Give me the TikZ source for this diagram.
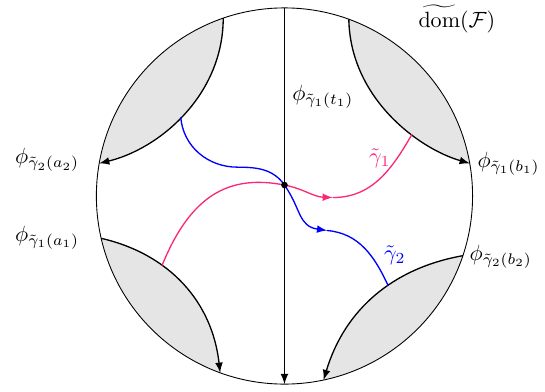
\documentclass[tikz,border=0pt]{standalone}
\usepackage{amsmath,amssymb}
\usepackage{tikz}
\usetikzlibrary{arrows,calc}
\definecolor{gpink}{RGB}{250,40,120}
\tikzset{region/.style={fill=gray!20},
  bd/.style={->,semithick},
  crv/.style={semithick}}

\begin{document}
\begin{tikzpicture}[>=latex]
\useasboundingbox (-4.537,-3.11) rectangle (4.155,3.126);
% end points on the circle
\coordinate (tl1) at (109:3); \coordinate (tl2) at (170:3);
\coordinate (tr1) at (70:3);  \coordinate (tr2) at (10:3);
\coordinate (bl1) at (193:3); \coordinate (bl2) at (250:3);
\coordinate (br1) at (341.5:3); \coordinate (br2) at (282:3);
\coordinate (top) at (90:3); \coordinate (bot) at (270:3);
\coordinate (dot) at (0,0.175);
% shaded pieces
\fill[region] (tl1) arc[start angle=109,end angle=170,radius=3] .. controls (-2.0,0.75) and (-0.98,1.6) .. (tl1);
\fill[region] (tr1) arc[start angle=70,end angle=10,radius=3] .. controls (2.15,0.75) and (1.05,1.55) .. (tr1);
\fill[region] (bl1) arc[start angle=193,end angle=250,radius=3] .. controls (-1.15,-1.7) and (-1.82,-0.93) .. (bl1);
\fill[region] (br1) arc[start angle=341.5,end angle=282,radius=3] .. controls (0.96,-1.81) and (1.73,-1.15) .. (br1);
\draw (0,0) circle (3);
% boundary curves
\draw[bd] (tl1) .. controls (-0.98,1.6) and (-2.0,0.75) .. (tl2) coordinate[pos=0.52] (bs);
\draw[bd] (tr1) .. controls (1.05,1.55) and (2.15,0.75) .. (tr2) coordinate[pos=0.64] (pe);
\draw[bd] (bl1) .. controls (-1.82,-0.93) and (-1.15,-1.7) .. (bl2) coordinate[pos=0.34] (ps);
\draw[bd] (br1) .. controls (1.73,-1.15) and (0.96,-1.81) .. (br2) coordinate[pos=0.41] (be);
\draw[bd] (top) -- (bot);
% the two lifted paths
\draw[crv,blue,->] (bs) to[out=-85,in=180] (-0.75,0.46) to[out=0,in=125] (dot) to[out=-55,in=172,looseness=1.2] (0.68,-0.55) coordinate (ba);
\draw[crv,blue] (ba) to[out=-5,in=115] (be);
\draw[crv,gpink] (ps) .. controls (-1.5,0.0) and (-0.9,0.35) .. (dot);
\draw[crv,gpink,->] (dot) to[out=-11,in=178] (0.77,-0.025) coordinate (pa);
\draw[crv,gpink] (pa) to[out=0,in=240] (pe);
\fill (dot) circle (1.5pt);
% labels
\node[right] (lt) at (0,1.58) {$\phi_{\tilde{\gamma}_1(t_1)}$};
\node[anchor=east] (la2) at (-3.15,0.57) {$\phi_{\tilde{\gamma}_2(a_2)}$};
\node[anchor=east] (la1) at (-3.15,-0.67) {$\phi_{\tilde{\gamma}_1(a_1)}$};
\node[right] (lb1) at (tr2) {$\phi_{\tilde{\gamma}_1(b_1)}$};
\node[anchor=west] (lb2) at (2.83,-0.97) {$\phi_{\tilde{\gamma}_2(b_2)}$};
\node (ldom) at (2.75,2.82) {$\widetilde{\mathrm{dom}}(\mathcal{F})$};
\node[gpink] (lg1) at (1.52,0.6) {$\tilde{\gamma}_1$};
\node[blue] (lg2) at (1.76,-0.94) {$\tilde{\gamma}_2$};
\end{tikzpicture}
\end{document}
